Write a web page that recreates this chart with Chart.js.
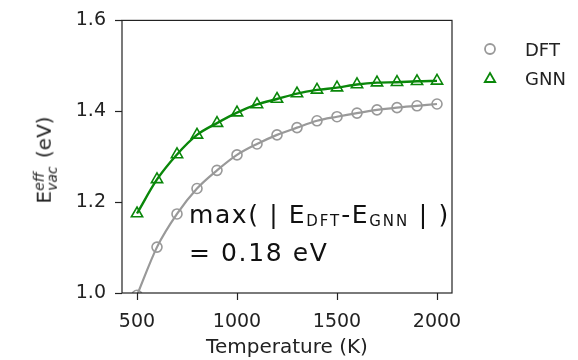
<!DOCTYPE html>
<html>
<head>
<meta charset="utf-8">
<script src="https://cdn.jsdelivr.net/npm/chart.js@4"></script>
<style>
  html, body { margin: 0; padding: 0; background: #fff; }
  #wrap { position: relative; width: 578px; height: 360px; }
  #wrap canvas { position: absolute; left: 0; top: 0; }
  .lbl { position: absolute; font-family: "DejaVu Sans", sans-serif; color: #222; white-space: nowrap; }
  #ylab { left: 45px; top: 160px; font-size: 20px; transform: translate(-50%, -50%) rotate(-90deg); }
  #ylab .ss { display: inline-block; vertical-align: middle; line-height: 13px; font-size: 14px; font-style: italic; text-align: left; margin-right: 2px; }
  .leg { font-size: 18px; left: 525px; }
  #note { left: 189px; top: 199px; font-size: 25px; line-height: 32px; letter-spacing: 1.6px; color: #111; }
  #note sub { font-size: 15px; vertical-align: -3px; letter-spacing: 2px; }
</style>
</head>
<body>
<div id="wrap">
  <canvas id="chart" width="578" height="360"></canvas>
  <div class="lbl" id="ylab">E<span class="ss">eff<br>vac</span> (eV)</div>
  <div class="lbl leg" style="top: 39px;">DFT</div>
  <div class="lbl leg" style="top: 68px;">GNN</div>
  <div class="lbl" id="note">max( | E<sub>DFT</sub>-E<sub>GNN</sub> | )<br>= 0.18 eV</div>
</div>
<script>
// vacancy formation energy vs temperature
const temps = [500, 600, 700, 800, 900, 1000, 1100, 1200, 1300, 1400, 1500, 1600, 1700, 1800, 1900, 2000];
const dftVals = [0.995, 1.101, 1.174, 1.230, 1.270, 1.304, 1.328, 1.348, 1.364, 1.379, 1.388, 1.396, 1.403, 1.408, 1.412, 1.416];
const gnnVals = [1.175, 1.250, 1.305, 1.348, 1.374, 1.397, 1.415, 1.427, 1.439, 1.447, 1.452, 1.459, 1.463, 1.464, 1.466, 1.467];
const xTicks = [500, 1000, 1500, 2000];
const yTicks = [1.0, 1.2, 1.4, 1.6];

const grayCol = '#999999';
const greenCol = '#0a870a';

function toPoints(vals) {
    return temps.map((t, i) => ({ x: t, y: vals[i] }));
}

// box around the plot area + legend markers
const framePlugin = {
    id: 'frame',
    afterDraw(chart) {
        const ctx = chart.ctx;
        const a = chart.chartArea;
        ctx.save();
        ctx.strokeStyle = '#222';
        ctx.lineWidth = 1.2;
        ctx.strokeRect(a.left, a.top, a.right - a.left, a.bottom - a.top);

        ctx.fillStyle = 'rgba(0,0,0,0)';
        ctx.lineWidth = 1.8;
        ctx.strokeStyle = grayCol;
        Chart.helpers.drawPoint(ctx, { pointStyle: 'circle', radius: 5, borderWidth: 1.8 }, 490, 49);
        ctx.strokeStyle = greenCol;
        Chart.helpers.drawPoint(ctx, { pointStyle: 'triangle', radius: 6, borderWidth: 1.8 }, 490, 79);
        ctx.restore();
    }
};

const ctx = document.getElementById('chart').getContext('2d');
new Chart(ctx, {
    type: 'line',
    data: {
        datasets: [{
            label: 'DFT',
            data: toPoints(dftVals),
            borderColor: grayCol,
            borderWidth: 2.2,
            cubicInterpolationMode: 'monotone',
            pointStyle: 'circle',
            pointRadius: 5,
            pointBorderWidth: 1.6,
            pointBorderColor: grayCol,
            pointBackgroundColor: 'rgba(0,0,0,0)'
        }, {
            label: 'GNN',
            data: toPoints(gnnVals),
            borderColor: greenCol,
            borderWidth: 2.4,
            cubicInterpolationMode: 'monotone',
            pointStyle: 'triangle',
            pointRadius: 6.5,
            pointBorderWidth: 1.6,
            pointBorderColor: greenCol,
            pointBackgroundColor: 'rgba(0,0,0,0)'
        }]
    },
    options: {
        responsive: false,
        animation: false,
        layout: { padding: { left: 0, top: 18, right: 126, bottom: 0 } },
        plugins: {
            legend: { display: false },
            tooltip: { enabled: false }
        },
        scales: {
            x: {
                type: 'linear',
                min: 425,
                max: 2075,
                afterBuildTicks: scale => { scale.ticks = xTicks.map(v => ({ value: v })); },
                afterFit: scale => { scale.height = 67; },
                grid: { display: true, drawOnChartArea: false, drawTicks: true, tickLength: 7, color: '#222', tickWidth: 1.2 },
                border: { display: false },
                ticks: {
                    color: '#222',
                    font: { family: 'DejaVu Sans', size: 19 },
                    padding: 11,
                    maxRotation: 0,
                    callback: v => String(v)
                },
                title: {
                    display: true,
                    text: 'Temperature (K)',
                    color: '#222',
                    font: { family: 'DejaVu Sans', size: 20 },
                    padding: { top: 0, bottom: 0 }
                }
            },
            y: {
                min: 1.0,
                max: 1.6,
                afterBuildTicks: scale => { scale.ticks = yTicks.map(v => ({ value: v })); },
                afterFit: scale => { scale.width = 122; },
                grid: { display: true, drawOnChartArea: false, drawTicks: true, tickLength: 7, color: '#222', tickWidth: 1.2 },
                border: { display: false },
                ticks: {
                    color: '#222',
                    font: { family: 'DejaVu Sans', size: 19 },
                    padding: 9,
                    callback: v => v.toFixed(1)
                }
            }
        }
    },
    plugins: [framePlugin]
});
</script>
</body>
</html>
